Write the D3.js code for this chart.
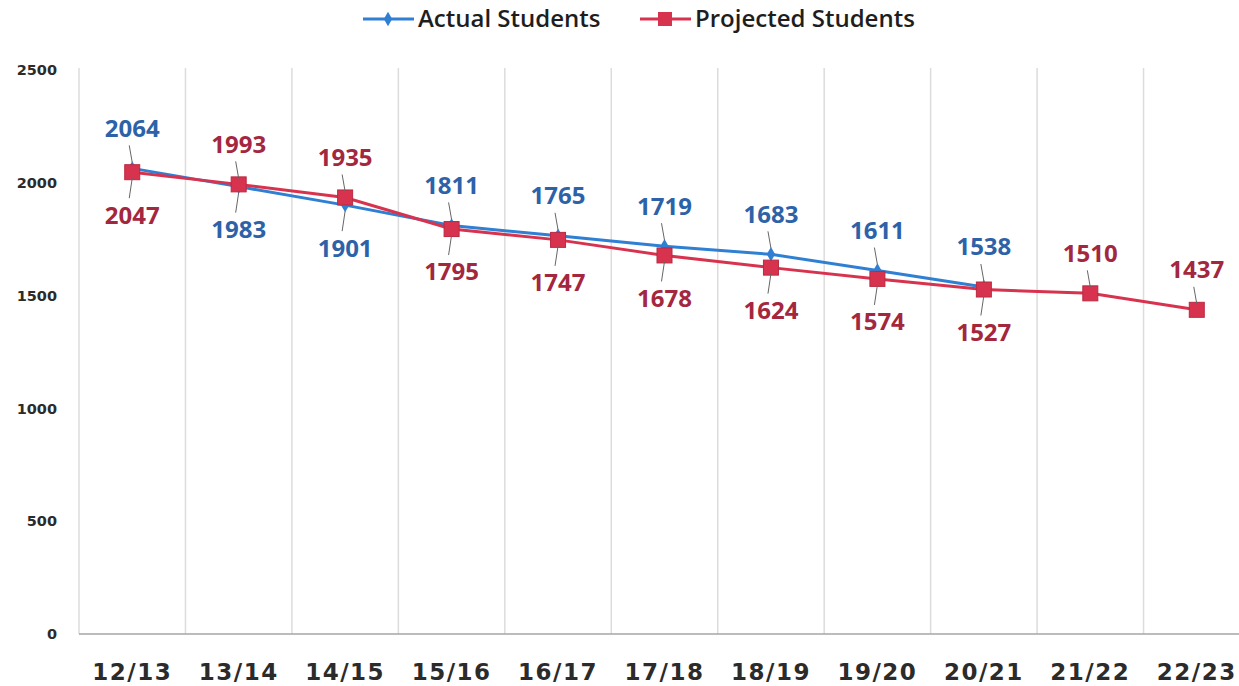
<!DOCTYPE html>
<html><head><meta charset="utf-8">
<script src="https://cdn.jsdelivr.net/npm/d3@7"></script>
<style>body{margin:0;background:#fff}svg{display:block}</style>
</head><body><svg id="c" width="1239" height="686"></svg>
<script>
const categories = ["12/13","13/14","14/15","15/16","16/17","17/18","18/19","19/20","20/21","21/22","22/23"];
const actual = [2064,1983,1901,1811,1765,1719,1683,1611,1538,null,null];
const projected = [2047,1993,1935,1795,1747,1678,1624,1574,1527,1510,1437];
// label placement: 1 = above, -1 = below
const actualPos = [1,-1,-1,1,1,1,1,1,1,0,0];
const projPos = [-1,1,1,-1,-1,-1,-1,-1,-1,1,1];
const yTicks = [0,500,1000,1500,2000,2500];

const svg = d3.select("#c");
const x = d3.scaleBand().domain(categories).range([79, 1250]);
const y = d3.scaleLinear().domain([0,2500]).range([634, 70]);
const cx = d => x(d) + x.bandwidth()/2;

// vertical gridlines
const edges = categories.map(c => x(c)).concat([x.range()[1]]);
svg.append("g").selectAll("line").data(edges).join("line")
  .attr("x1", d=>d).attr("x2", d=>d).attr("y1", y(2500)-2).attr("y2", y(0))
  .attr("stroke", "#dcdcdc").attr("stroke-width", 1.5);

// x axis line
svg.append("line").attr("x1", 79).attr("x2", 1239).attr("y1", y(0)).attr("y2", y(0))
  .attr("stroke", "#a6a6a6").attr("stroke-width", 1.5);

// y ticks
const ya = d3.axisLeft(y).tickValues(yTicks).tickFormat(d3.format("d")).tickSize(0).tickPadding(0);
const gy = svg.append("g").attr("transform","translate(57,0)").call(ya);
gy.select(".domain").remove();
gy.selectAll("text").attr("font-family","DejaVu Sans, sans-serif").attr("font-weight","700")
  .attr("font-size","14.5px").attr("fill","#2b2b2b").attr("text-anchor","end");

// x ticks
const xa = d3.axisBottom(x).tickSize(0).tickPadding(0);
const gx = svg.append("g").attr("transform", `translate(0,${y(0)+38})`).call(xa);
gx.select(".domain").remove();
gx.selectAll("text").attr("font-family","DejaVu Sans, sans-serif").attr("font-weight","700")
  .attr("font-size","23px").attr("fill","#2b2b2b").attr("dy","0.35em").attr("letter-spacing","1.5px");

const blue = "#2f7fd3", red = "#d8334e";
const line = d3.line().defined(d=>d.v!=null).x(d=>cx(d.c)).y(d=>y(d.v));
const aData = categories.map((c,i)=>({c, v: actual[i], p: actualPos[i]}));
const pData = categories.map((c,i)=>({c, v: projected[i], p: projPos[i]}));

svg.append("path").datum(aData).attr("d", line).attr("fill","none").attr("stroke",blue).attr("stroke-width",3);
svg.append("path").datum(pData).attr("d", line).attr("fill","none").attr("stroke",red).attr("stroke-width",3);

// diamonds
svg.append("g").selectAll("path").data(aData.filter(d=>d.v!=null)).join("path")
  .attr("d", d3.symbol(d3.symbolDiamond, 60))
  .attr("transform", d=>`translate(${cx(d.c)},${y(d.v)})`)
  .attr("fill", blue);
// squares
svg.append("g").selectAll("rect").data(pData).join("rect")
  .attr("x", d=>cx(d.c)-7.5).attr("y", d=>y(d.v)-7.5).attr("width",15).attr("height",15)
  .attr("fill", red).attr("stroke","#b82a42").attr("stroke-width",1);

function labels(data, color) {
  const g = svg.append("g");
  data.filter(d=>d.v!=null && d.p!==0).forEach(d=>{
    const px = cx(d.c), py = y(d.v);
    const ly = d.p>0 ? py - 40 : py + 43;
    const l1 = d.p>0 ? ly + 17 : ly - 17;
    const l2 = d.p>0 ? py - 6 : py + 6;
    if (Math.abs(l2 - l1) > 3)
      g.append("line").attr("x1",px-3).attr("x2",px).attr("y1",l1).attr("y2",l2)
        .attr("stroke","#666").attr("stroke-width",1);
    g.append("text").attr("x", px).attr("y", ly).attr("dy","0.35em")
      .attr("text-anchor","middle").attr("font-family","Open Sans, sans-serif")
      .attr("font-weight","700").attr("font-size","24px").attr("fill", color).text(d.v);
  });
}
labels(aData, "#2d62a8");
labels(pData, "#a3273f");

// legend
const leg = svg.append("g").attr("font-family","Open Sans, sans-serif").attr("font-size","24px").attr("font-weight","600").attr("fill","#1e1e1e");
leg.append("line").attr("x1",363).attr("x2",414).attr("y1",19).attr("y2",19).attr("stroke",blue).attr("stroke-width",3);
leg.append("path").attr("d", d3.symbol(d3.symbolDiamond,60)).attr("transform","translate(388,19)").attr("fill",blue);
leg.append("text").attr("x",418).attr("y",19).attr("dy","0.35em").text("Actual Students");
leg.append("line").attr("x1",640).attr("x2",691).attr("y1",19).attr("y2",19).attr("stroke",red).attr("stroke-width",3);
leg.append("rect").attr("x",658).attr("y",12).attr("width",14).attr("height",14).attr("fill",red);
leg.append("text").attr("x",695).attr("y",19).attr("dy","0.35em").text("Projected Students");
</script></body></html>
